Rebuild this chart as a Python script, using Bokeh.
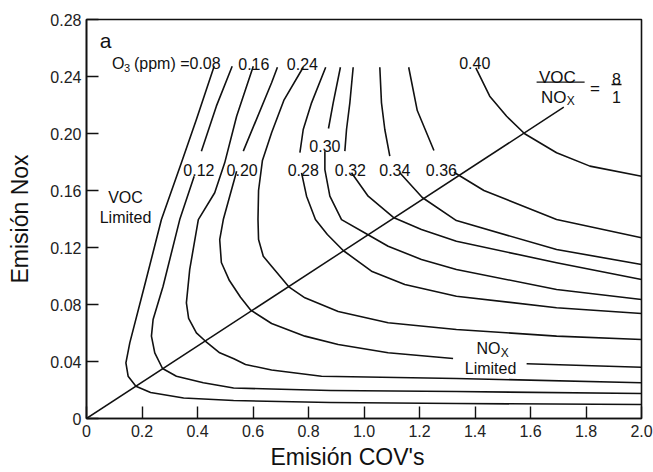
import numpy as np
from bokeh.plotting import figure
from bokeh.models import FixedTicker, Title
from bokeh.embed import file_html
from bokeh.resources import INLINE
from bokeh.core.properties import value

nan = float("nan")

# ---------------- data ----------------
# ozone isopleth levels (ppm) and their curves: VOC emission (x) vs NOx emission (y)
levels = ["0.08", "0.12", "0.16", "0.20", "0.24", "0.28", "0.30", "0.32", "0.34", "0.36", "0.40"]

voc_008 = [0.460, 0.396, 0.342, 0.270, 0.214, 0.156, 0.142, 0.150, 0.178, 0.231, 0.350, 0.530, 0.879, 1.333, 2.0]
nox_008 = [0.2472, 0.2098, 0.1794, 0.1396, 0.0968, 0.0531, 0.0391, 0.0297, 0.0227, 0.0182, 0.0144, 0.0126, 0.0112, 0.0105, 0.0098]

voc_012 = [0.525, 0.468, 0.414, nan, 0.388, 0.336, 0.276, 0.240, 0.234, 0.246, 0.274, 0.324, 0.421, 0.530, 0.667, 0.879, 1.333, 2.0]
nox_012 = [0.2472, 0.2192, 0.1876, nan, 0.1700, 0.1396, 0.0928, 0.0695, 0.0578, 0.0461, 0.0351, 0.0297, 0.0251, 0.0214, 0.0207, 0.0196, 0.0189, 0.0175]

voc_016 = [0.601, 0.541, 0.498, 0.462, 0.403, 0.372, 0.360, 0.368, 0.396, 0.429, 0.480, 0.531, 0.573, 0.667, 0.847, 1.333, 2.0]
nox_016 = [0.2472, 0.2121, 0.1794, 0.1584, 0.1396, 0.1046, 0.0812, 0.0702, 0.0601, 0.0542, 0.0461, 0.0419, 0.0379, 0.0340, 0.0297, 0.0281, 0.0251]

voc_020 = [0.688, 0.667, 0.565, nan, 0.541, 0.493, 0.480, 0.486, 0.515, 0.555, 0.592, 0.667, 0.787, 0.907, 1.087, 1.321, nan, 1.586, 2.0]
nox_020 = [0.2465, 0.2356, 0.1876, nan, 0.1735, 0.1396, 0.1256, 0.1095, 0.0968, 0.0851, 0.0760, 0.0667, 0.0578, 0.0519, 0.0461, 0.0421, nan, 0.0384, 0.0360]

voc_024 = [0.781, 0.711, 0.667, 0.634, 0.620, 0.618, 0.620, 0.637, 0.667, 0.729, 0.787, 0.907, 1.087, 1.333, 1.694, 2.0]
nox_024 = [0.2465, 0.2232, 0.2005, 0.1811, 0.1600, 0.1396, 0.1256, 0.1139, 0.1069, 0.0924, 0.0847, 0.0751, 0.0672, 0.0625, 0.0578, 0.0554]

voc_028 = [0.862, 0.811, 0.781, 0.769, nan, 0.775, 0.793, 0.825, 0.868, 0.925, 1.027, 1.147, 1.333, 1.694, 2.0]
nox_028 = [0.2465, 0.2215, 0.2028, 0.1865, nan, 0.1724, 0.1560, 0.1396, 0.1291, 0.1179, 0.1034, 0.0940, 0.0858, 0.0777, 0.0737]

voc_030 = [0.915, 0.889, 0.872, nan, 0.859, 0.859, 0.877, 0.919, 1.013, 1.087, 1.207, 1.333, 1.694, 2.0]
nox_030 = [0.2465, 0.2215, 0.2035, nan, 0.1876, 0.1747, 0.1560, 0.1396, 0.1291, 0.1209, 0.1116, 0.1046, 0.0905, 0.0835]

voc_032 = [0.961, 0.949, 0.937, 0.931, nan, 0.955, 1.015, 1.106, 1.207, 1.333, 1.694, 2.0]
nox_032 = [0.2465, 0.2215, 0.2028, 0.1876, nan, 0.1724, 0.1560, 0.1411, 0.1326, 0.1244, 0.1093, 0.0975]

voc_034 = [1.057, 1.063, 1.075, 1.093, nan, 1.129, 1.210, 1.333, 1.694, 2.0]
nox_034 = [0.2465, 0.2215, 0.2028, 0.1841, nan, 0.1724, 0.1551, 0.1389, 0.1186, 0.1081]

voc_036 = [1.161, 1.192, 1.252, nan, 1.324, 1.432, 1.514, 1.694, 2.0]
nox_036 = [0.2465, 0.2161, 0.1881, nan, 0.1728, 0.1600, 0.1537, 0.1396, 0.1268]

voc_040 = [1.403, 1.453, 1.514, 1.579, 1.694, 1.814, 2.0]
nox_040 = [0.2461, 0.2262, 0.2121, 0.1998, 0.1865, 0.1771, 0.1700]

# VOC/NOx = 8/1 line
ratio_voc = [0.0, 1.720]
ratio_nox = [0.0, 0.2185]

x_ticks = [0.0, 0.2, 0.4, 0.6, 0.8, 1.0, 1.2, 1.4, 1.6, 1.8, 2.0]
x_tick_labels = ["0", "0.2", "0.4", "0.6", "0.8", "1.0", "1.2", "1.4", "1.6", "1.8", "2.0"]
y_ticks = [0.0, 0.04, 0.08, 0.12, 0.16, 0.20, 0.24, 0.28]
y_tick_labels = ["0", "0.04", "0.08", "0.12", "0.16", "0.20", "0.24", "0.28"]

curves = [(voc_008, nox_008), (voc_012, nox_012), (voc_016, nox_016), (voc_020, nox_020),
          (voc_024, nox_024), (voc_028, nox_028), (voc_030, nox_030), (voc_032, nox_032),
          (voc_034, nox_034), (voc_036, nox_036), (voc_040, nox_040)]

# ---------------- figure ----------------
FONT = "Liberation Sans"
INK = "#111111"

p = figure(width=653, height=472, x_range=(0, 2.0), y_range=(0, 0.28),
           output_backend="svg", toolbar_location=None, title=None,
           min_border_left=86, min_border_right=12, min_border_top=19, min_border_bottom=54)
p.grid.visible = False
p.background_fill_color = "white"
p.border_fill_color = "white"
p.outline_line_color = INK
p.outline_line_width = 1.6

for ax, ticks, labels in ((p.xaxis[0], x_ticks, x_tick_labels), (p.yaxis[0], y_ticks, y_tick_labels)):
    ax.ticker = FixedTicker(ticks=ticks)
    ax.major_label_overrides = {t: l for t, l in zip(ticks, labels)}
    ax.major_tick_in = 12
    ax.major_tick_out = 0
    ax.minor_tick_in = 0
    ax.minor_tick_out = 0
    ax.axis_line_width = 1.6
    ax.axis_line_color = INK
    ax.major_tick_line_width = 1.4
    ax.major_tick_line_color = INK
    ax.major_label_text_font = FONT
    ax.major_label_text_font_size = "16px"
    ax.major_label_text_color = "#222222"
p.xaxis.major_label_standoff = 6
p.yaxis.major_label_standoff = 5

# y axis title
p.yaxis.axis_label = "Emisión Nox"
p.yaxis.axis_label_text_font = FONT
p.yaxis.axis_label_text_font_size = "23px"
p.yaxis.axis_label_text_font_style = "normal"
p.yaxis.axis_label_text_color = INK
p.yaxis.axis_label_standoff = 14

# x axis title (slightly left of centre in the reference)
p.add_layout(Title(text="Emisión COV's", align="left", offset=184, standoff=4,
                   text_font=FONT, text_font_size="23px", text_font_style="normal",
                   text_color=INK), "below")

for vx, ny in curves:
    p.line(np.array(vx, dtype=float), np.array(ny, dtype=float),
           line_color=INK, line_width=1.6, line_join="round")

p.line(ratio_voc, ratio_nox, line_color=INK, line_width=1.5)

def txt(xs, ys, ts, size="16px", align="center", baseline="alphabetic"):
    p.text(x=xs, y=ys, text=ts, text_font=value(FONT), text_font_size=size,
           text_align=align, text_baseline=baseline, text_color=INK)

# panel letter
txt([0.048], [0.2655], ["a"], size="21px", align="left")
# top row of level labels
txt([0.0923], [0.2488], ["O"], align="left")
txt([0.135], [0.2462], ["3"], size="11px", align="left")
txt([0.171], [0.2488], ["(ppm) =" + levels[0]], align="left")
txt([0.603, 0.778], [0.2488, 0.2488], [levels[2], levels[4]])
txt([1.399], [0.2496], [levels[10]])
# labels sitting in the curve gaps
txt([0.405, 0.561, 0.781, 0.951, 1.111, 1.279], [0.1742] * 6,
    [levels[1], levels[3], levels[5], levels[7], levels[8], levels[9]])
txt([0.859], [0.1912], [levels[6]])
# regime labels
txt([0.1405, 0.1405], [0.1554, 0.1414], ["VOC", "Limited"])
txt([1.492], [0.0489], ["NO"], align="right")
txt([1.493], [0.0463], ["X"], size="12px", align="left")
txt([1.456], [0.0349], ["Limited"])
# VOC / NOx = 8 / 1
txt([1.697], [0.2391], ["VOC"], size="17px")
txt([1.730], [0.2251], ["NO"], size="17px", align="right")
txt([1.731], [0.2226], ["X"], size="12px", align="left")
txt([1.832], [0.2316], ["="], size="17px")
txt([1.910, 1.910], [0.2379, 0.2254], ["8", "1"], size="16px")
p.segment(x0=[1.622, 1.892], y0=[0.2360, 0.2344], x1=[1.795, 1.928], y1=[0.2360, 0.2344],
          line_color=INK, line_width=1.3)

open("out.html", "w").write(file_html(p, INLINE))
